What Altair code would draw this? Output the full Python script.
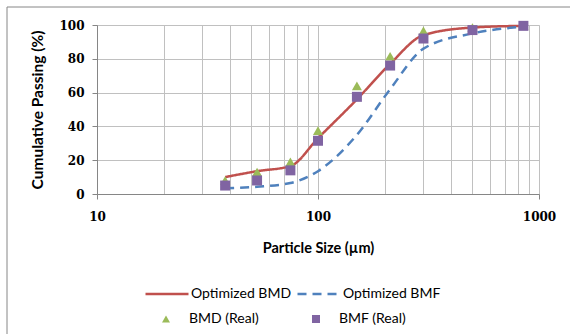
import altair as alt
import pandas as pd

# ---- data ----
sizes = [38, 53, 75, 100, 150, 212, 300, 500, 850]
opt_bmd = [10, 13.5, 16.5, 33, 56, 77, 94, 98.5, 99.5]
opt_bmf = [3.4, 4.3, 6.5, 13.5, 35, 62, 86, 95, 99]
bmd_real = [8, 13, 19, 37.5, 64, 81.5, 96.5, 98.5, 99.8]
bmf_real = [5, 8, 14, 31.5, 57.5, 76, 92, 97, 99.5]

line_names = ["Optimized BMD", "Optimized BMF"]
line_colors = ["#C0504D", "#4F81BD"]
line_dash = [[1, 0], [9, 6]]
point_names = ["BMD (Real)", "BMF (Real)"]
point_colors = ["#9BBB59", "#8064A2"]
point_shapes = ["triangle-up", "square"]

x_grid_values = [10, 20, 30, 40, 50, 60, 70, 80, 90,
                 100, 200, 300, 400, 500, 600, 700, 800, 900, 1000]
y_values = [0, 20, 40, 60, 80, 100]

lines_df = pd.DataFrame({
    "size": sizes * 2,
    "pct": opt_bmd + opt_bmf,
    "series": [line_names[0]] * len(sizes) + [line_names[1]] * len(sizes),
    "order": list(range(len(sizes))) * 2,
})
points_df = pd.DataFrame({
    "size": sizes * 2,
    "pct": bmd_real + bmf_real,
    "kind": [point_names[0]] * len(sizes) + [point_names[1]] * len(sizes),
})

LABEL_FONT = "DejaVu Serif"
TITLE_FONT = "Lato"

line_legend = alt.Legend(
    title=None, orient="none", legendX=47, legendY=246,
    columns=2, columnPadding=0, padding=0,
    labelFont=TITLE_FONT, labelFontSize=14, labelColor="#000000", labelOffset=1,
    symbolType="stroke", symbolSize=1849, symbolStrokeWidth=2.5,
)
point_legend = alt.Legend(
    title=None, orient="none", legendX=62, legendY=287,
    columns=2, columnPadding=50, padding=0,
    labelFont=TITLE_FONT, labelFontSize=14, labelColor="#000000", labelOffset=16,
    symbolSize=64, symbolStrokeWidth=0, symbolOpacity=1,
)

x_axis = alt.Axis(
    values=x_grid_values,
    format="d",
    labelExpr="indexof([10,100,1000], datum.value) >= 0 ? datum.label : ''",
    title="Particle Size (µm)",
    titleFont=TITLE_FONT, titleFontSize=14.5, titleFontWeight="bold",
    titleX=221, titleY=54, titleBaseline="middle", titleAlign="center",
    labelFont=LABEL_FONT, labelFontSize=12, labelFontWeight="bold",
    labelColor="#000000", labelPadding=12,
    tickSize=5, tickColor="#868686",
    tickOpacity={"condition": {"test": "indexof([10,100,1000], datum.value) >= 0", "value": 1}, "value": 0},
    grid=True, gridColor="#C0C0C0", gridWidth=1,
    domainColor="#868686", labelOverlap=False, labelFlush=False,
)
y_axis = alt.Axis(
    values=y_values,
    tickCount=6,
    title="Cumulative Passing (%)",
    titleFont=TITLE_FONT, titleFontSize=15.5, titleFontWeight="bold",
    titleX=-60, titleY=84.5, titleAngle=270, titleBaseline="middle", titleAlign="center",
    labelFont=LABEL_FONT, labelFontSize=12, labelFontWeight="bold",
    labelColor="#000000", labelPadding=8, labelOverlap=False, labelFlush=False,
    tickSize=5, tickColor="#868686",
    grid=True, gridColor="#C0C0C0", gridWidth=1,
    domainColor="#868686",
)

x_scale = alt.Scale(type="log", domain=[10, 1000], nice=False)
y_scale = alt.Scale(domain=[0, 100], nice=False)

lines = alt.Chart(lines_df).mark_line(strokeWidth=2.5, interpolate="monotone").encode(
    x=alt.X("size:Q", scale=x_scale, axis=x_axis),
    y=alt.Y("pct:Q", scale=y_scale, axis=y_axis),
    color=alt.Color("series:N", scale=alt.Scale(domain=line_names, range=line_colors), legend=line_legend),
    strokeDash=alt.StrokeDash("series:N", scale=alt.Scale(domain=line_names, range=line_dash), legend=line_legend),
    order="order:Q",
)

points = alt.Chart(points_df).mark_point(filled=True, opacity=1, size=100).encode(
    x=alt.X("size:Q", scale=x_scale, axis=x_axis),
    y=alt.Y("pct:Q", scale=y_scale, axis=y_axis),
    fill=alt.Fill("kind:N", scale=alt.Scale(domain=point_names, range=point_colors), legend=point_legend),
    shape=alt.Shape("kind:N", scale=alt.Scale(domain=point_names, range=point_shapes), legend=point_legend),
)

frame = alt.Chart(pd.DataFrame({"a": [0]})).mark_rect(
    fill=None, stroke="#868686", strokeWidth=1
).encode(
    x=alt.value(-90), x2=alt.value(476), y=alt.value(-18), y2=alt.value(320)
)

chart = alt.layer(frame, lines, points).resolve_scale(
    color="independent", shape="independent", strokeDash="independent", fill="independent"
).properties(
    width=442,
    height=169,
    padding={"left": 97, "top": 25, "right": 31, "bottom": 140},
    autosize="none",
).configure_view(stroke=None).configure(background="white")

chart.save("out.html", embed_options={"renderer": "svg", "actions": False})
